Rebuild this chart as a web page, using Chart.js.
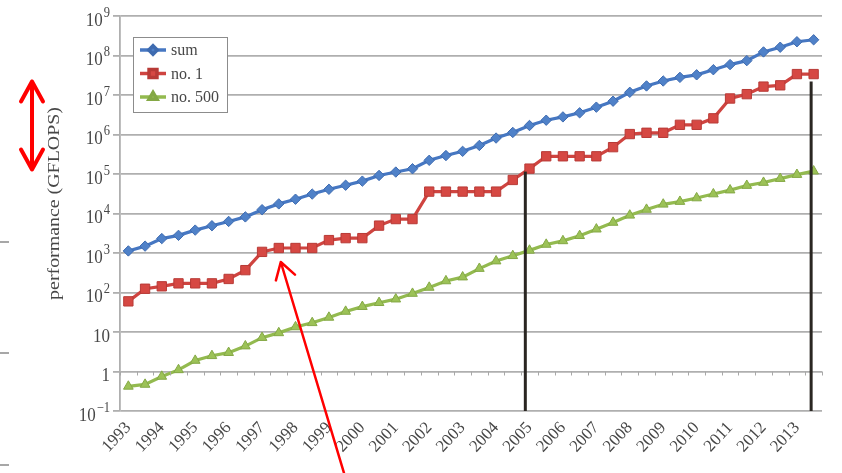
<!DOCTYPE html>
<html>
<head>
<meta charset="utf-8">
<script src="https://cdn.jsdelivr.net/npm/chart.js@4.4.1/dist/chart.umd.min.js"></script>
<style>
  html, body { margin: 0; padding: 0; background: #ffffff; }
  #wrap { width: 842px; height: 473px; position: relative; }
  canvas { display: block; }
</style>
</head>
<body>
<div id="wrap"><canvas id="chart" width="842" height="473"></canvas></div>
<script>
// TOP500 lists, June and November of each year
const periods = [
  '1993-06','1993-11','1994-06','1994-11','1995-06','1995-11','1996-06','1996-11',
  '1997-06','1997-11','1998-06','1998-11','1999-06','1999-11','2000-06','2000-11',
  '2001-06','2001-11','2002-06','2002-11','2003-06','2003-11','2004-06','2004-11',
  '2005-06','2005-11','2006-06','2006-11','2007-06','2007-11','2008-06','2008-11',
  '2009-06','2009-11','2010-06','2010-11','2011-06','2011-11','2012-06','2012-11',
  '2013-06','2013-11'
];

// one year label per June list
const xTickLabels = [
  '1993','','1994','','1995','','1996','','1997','','1998','','1999','','2000','',
  '2001','','2002','','2003','','2004','','2005','','2006','','2007','','2008','',
  '2009','','2010','','2011','','2012','','2013',''
];

// performance in GFLOPS
const sumPerf = [
  1128, 1493, 2320, 2800, 3800, 4900, 6300, 8200,
  12500, 17500, 23000, 31000, 41000, 52000, 66000, 92000,
  112000, 136000, 222000, 293000, 375000, 528000, 813000, 1127000,
  1690000, 2300000, 2790000, 3540000, 4920000, 6970000, 11700000, 16950000,
  22600000, 27950000, 32430000, 43660000, 58880000, 74160000, 123000000, 162000000,
  223000000, 250000000
];
const no1Perf = [
  59.7, 124.5, 143.4, 170.4, 170.4, 170.4, 220.4, 368.2,
  1068, 1338, 1338, 1338, 2121, 2379, 2379, 4938,
  7226, 7226, 35860, 35860, 35860, 35860, 35860, 70720,
  136800, 280600, 280600, 280600, 280600, 478200, 1026000, 1105000,
  1105000, 1759000, 1759000, 2566000, 8162000, 10510000, 16324750, 17590000,
  33862700, 33862700
];
const no500Perf = [
  0.42, 0.47, 0.75, 1.1, 1.9, 2.5, 3.0, 4.4,
  7.2, 9.5, 13.4, 17.1, 23.4, 33.1, 43.8, 55.1,
  67.8, 94.3, 134.3, 195.8, 245.1, 403.4, 624, 850.6,
  1166, 1646, 2026, 2737, 4005, 5929, 9000, 12640,
  17100, 20050, 24670, 31120, 39100, 50940, 60820, 76500,
  96620, 117900
];

const seriesNames = ['sum', 'no. 1', 'no. 500'];

// decade gridlines and their labels (base, exponent)
const yTicks = [0.1, 1, 10, 1e2, 1e3, 1e4, 1e5, 1e6, 1e7, 1e8, 1e9];
const yTickLabels = [
  ['10', '\u22121'], ['1', ''], ['10', ''], ['10', '2'], ['10', '3'], ['10', '4'],
  ['10', '5'], ['10', '6'], ['10', '7'], ['10', '8'], ['10', '9']
];
const yTitle = 'performance (GFLOPS)';

// vertical marker lines: list position and the level where each stops
const markerLines = [
  { at: 23.75, top: 1.15e5 },
  { at: 40.85, top: 2.2e7 }
];

// span of the double-headed arrow beside the axis
const spanArrow = { top: 2.2e7, bottom: 1.3e5 };

const SERIF = '"Liberation Serif", "DejaVu Serif", "Times New Roman", serif';
const TEXT = '#474747';
const GRID = '#afafaf';

const styles = [
  { line: '#4677c2', fill: '#4f81c8', edge: '#3e6bb0', point: 'rectRot', r: 5.2 },
  { line: '#cf4440', fill: '#d64843', edge: '#b83a36', point: 'rect', r: 6.6 },
  { line: '#93ba4f', fill: '#9cc257', edge: '#84a845', point: 'triangle', r: 5.6 }
];

const overlay = {
  id: 'overlay',
  afterDatasetsDraw(chart) {
    const { ctx, scales: { x, y }, chartArea } = chart;
    ctx.save();
    // small tick marks on the horizontal axis crossing at 1
    const y1 = y.getPixelForValue(1);
    ctx.strokeStyle = '#a8a8a8';
    ctx.lineWidth = 1;
    for (let i = 0; i <= periods.length; i++) {
      const px = Math.round(x.getPixelForValue(i - 0.5)) + 0.5;
      ctx.beginPath();
      ctx.moveTo(px, y1);
      ctx.lineTo(px, y1 + 4);
      ctx.stroke();
    }
    // vertical marker lines
    ctx.strokeStyle = '#2a2622';
    ctx.lineWidth = 3;
    markerLines.forEach(m => {
      const px = x.getPixelForValue(m.at);
      ctx.beginPath();
      ctx.moveTo(px, chartArea.bottom);
      ctx.lineTo(px, y.getPixelForValue(m.top));
      ctx.stroke();
    });
    ctx.restore();
  },
  afterDraw(chart) {
    const { ctx, scales: { x, y }, chartArea } = chart;
    ctx.save();

    // y tick labels with raised exponents (slightly tall lettering)
    const right = chartArea.left - 10;
    const stretch = 1.15;
    yTicks.forEach((v, i) => {
      const gy = y.getPixelForValue(v);
      const [base, exp] = yTickLabels[i];
      ctx.fillStyle = TEXT;
      ctx.textBaseline = 'alphabetic';
      ctx.textAlign = 'left';
      ctx.font = '12.5px ' + SERIF;
      const ew = exp ? ctx.measureText(exp).width : 0;
      ctx.font = '17px ' + SERIF;
      const bw = ctx.measureText(base).width;
      const bx = right - ew - bw - (exp ? 1 : 0);
      ctx.save();
      ctx.translate(0, gy + 9.5);
      ctx.scale(1, stretch);
      ctx.fillText(base, bx, 0);
      if (exp) {
        ctx.font = '12.5px ' + SERIF;
        ctx.fillText(exp, bx + bw + 1, -7.5);
      }
      ctx.restore();
    });

    // y axis title
    ctx.save();
    ctx.translate(55, (chartArea.top + chartArea.bottom) / 2 - 10);
    ctx.rotate(-Math.PI / 2);
    ctx.scale(1.17, 1);
    ctx.font = '17px ' + SERIF;
    ctx.fillStyle = TEXT;
    ctx.textAlign = 'center';
    ctx.textBaseline = 'middle';
    ctx.fillText(yTitle, 0, 0);
    ctx.restore();

    // legend box
    const lx = chartArea.left + 13, ly = chartArea.top + 21, lw = 94, lh = 75;
    ctx.fillStyle = '#ffffff';
    ctx.fillRect(lx, ly, lw, lh);
    ctx.strokeStyle = '#8c8c8c';
    ctx.lineWidth = 1;
    ctx.strokeRect(lx + 0.5, ly + 0.5, lw, lh);
    seriesNames.forEach((name, i) => {
      const s = styles[i];
      const ry = ly + 13 + i * 23.5;
      ctx.strokeStyle = s.line;
      ctx.lineWidth = 3.5;
      ctx.beginPath();
      ctx.moveTo(lx + 7, ry);
      ctx.lineTo(lx + 33, ry);
      ctx.stroke();
      ctx.fillStyle = s.fill;
      ctx.strokeStyle = s.edge;
      Chart.helpers.drawPoint(ctx, { pointStyle: s.point, radius: s.r - 1, borderWidth: 1, rotation: 0 }, lx + 20, ry);
      ctx.fillStyle = TEXT;
      ctx.font = '16px ' + SERIF;
      ctx.textAlign = 'left';
      ctx.textBaseline = 'middle';
      ctx.fillText(name, lx + 38, ry + 1);
    });

    // red annotation arrows
    ctx.strokeStyle = '#ff0000';
    ctx.lineCap = 'round';
    ctx.lineJoin = 'round';
    // double-headed arrow beside the axis
    const ax = 32, aTop = y.getPixelForValue(spanArrow.top), aBot = y.getPixelForValue(spanArrow.bottom);
    ctx.lineWidth = 4;
    ctx.beginPath();
    ctx.moveTo(ax, aTop); ctx.lineTo(ax, aBot);
    ctx.moveTo(ax - 11, aTop + 20); ctx.lineTo(ax, aTop); ctx.lineTo(ax + 11, aTop + 20);
    ctx.moveTo(ax - 11, aBot - 20); ctx.lineTo(ax, aBot); ctx.lineTo(ax + 11, aBot - 20);
    ctx.stroke();
    // arrow pointing at the 1997 leader
    const tipX = x.getPixelForValue(9) + 2;
    const tipY = y.getPixelForValue(no1Perf[9]) + 14;
    const dx = 0.287, dy = 0.958;
    ctx.lineWidth = 2.5;
    ctx.beginPath();
    ctx.moveTo(tipX, tipY);
    ctx.lineTo(tipX + dx * 240, tipY + dy * 240);
    const len = 19, spread = 0.55;
    const ang = Math.atan2(dy, dx);
    ctx.moveTo(tipX + len * Math.cos(ang - spread), tipY + len * Math.sin(ang - spread));
    ctx.lineTo(tipX, tipY);
    ctx.lineTo(tipX + len * Math.cos(ang + spread), tipY + len * Math.sin(ang + spread));
    ctx.stroke();

    // short gray rules at the left edge
    ctx.strokeStyle = '#8a8a8a';
    ctx.lineWidth = 1.5;
    ctx.lineCap = 'butt';
    [242, 353, 465].forEach(ry => {
      ctx.beginPath();
      ctx.moveTo(0, ry); ctx.lineTo(9, ry);
      ctx.stroke();
    });
    ctx.restore();
  }
};

const datasets = [sumPerf, no1Perf, no500Perf].map((d, i) => ({
  label: seriesNames[i],
  data: d,
  borderColor: styles[i].line,
  borderWidth: 3.2,
  backgroundColor: styles[i].fill,
  pointStyle: styles[i].point,
  pointRadius: styles[i].r,
  pointBackgroundColor: styles[i].fill,
  pointBorderColor: styles[i].edge,
  pointBorderWidth: 1,
  tension: 0,
  fill: false
}));

new Chart(document.getElementById('chart'), {
  type: 'line',
  data: { labels: periods, datasets },
  options: {
    responsive: false,
    animation: false,
    devicePixelRatio: 1,
    layout: { padding: { top: 16, right: 20, left: 0, bottom: 0 } },
    plugins: { legend: { display: false }, tooltip: { enabled: false } },
    scales: {
      x: {
        offset: true,
        grid: { display: false, drawTicks: false },
        border: { display: false },
        ticks: {
          autoSkip: false,
          maxRotation: 47,
          minRotation: 47,
          padding: 7,
          color: TEXT,
          font: { family: SERIF, size: 17 },
          callback: (v, i) => xTickLabels[i]
        },
        afterFit(s) { s.height = 62; }
      },
      y: {
        type: 'logarithmic',
        min: 0.1,
        max: 1e9,
        afterBuildTicks(s) { s.ticks = yTicks.map(v => ({ value: v })); },
        afterFit(s) { s.width = 120; },
        ticks: { display: false },
        grid: { color: GRID, lineWidth: 1.8, drawTicks: true, tickLength: 7 },
        border: { display: true, color: GRID, width: 1.8 }
      }
    }
  },
  plugins: [overlay]
});
</script>
</body>
</html>
